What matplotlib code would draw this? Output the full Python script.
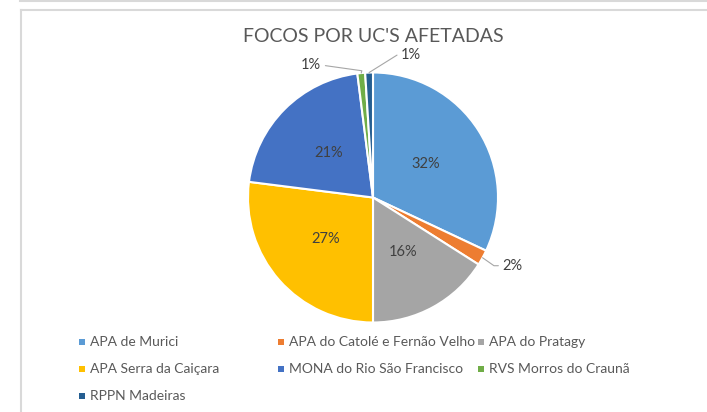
import numpy as np
import matplotlib.pyplot as plt
from matplotlib.patches import Rectangle
from matplotlib.lines import Line2D

plt.rcParams['font.family'] = ['Lato', 'DejaVu Sans']

# Dados do gráfico (percentuais)
ucs = ['APA de Murici', 'APA do Catolé e Fernão Velho', 'APA do Pratagy',
       'APA Serra da Caiçara', 'MONA do Rio São Francisco', 'RVS Morros do Craunã',
       'RPPN Madeiras']
percent = [32, 2, 16, 27, 21, 1, 1]
colors = ['#5B9BD5', '#ED7D31', '#A5A5A5', '#FFC000', '#4472C4', '#70AD47', '#255E91']
title = "FOCOS POR UC'S AFETADAS"

W, H = 707, 412
fig = plt.figure(figsize=(W / 100, H / 100), dpi=100)

# bordas cinzas (moldura do gráfico)
fig.add_artist(Line2D([20 / W, 1], [1 - 1 / H] * 2, color='#d9d9d9', lw=1.5))
fig.add_artist(Line2D([21 / W, 1], [1 - 10 / H] * 2, color='#d9d9d9', lw=1.5))
fig.add_artist(Line2D([21 / W] * 2, [0, 1 - 10 / H], color='#d9d9d9', lw=1.5))

# pizza
cx, cy, R = 373, 197.5, 125
ax = fig.add_axes([(cx - R) / W, (H - cy - R) / H, 2 * R / W, 2 * R / H])
wedges, _, autotexts = ax.pie(percent, colors=colors, startangle=90, counterclock=False,
                              autopct=lambda p: f'{p:.0f}%' if p >= 5 else '',
                              pctdistance=0.5,
                              wedgeprops=dict(edgecolor='white', linewidth=1.5),
                              textprops=dict(color='#404040', fontsize=10.5))
ax.set_xlim(-1, 1)
ax.set_ylim(-1, 1)

# rótulos externos com linha de chamada: (deslocamento x, y em px, alinhamento, angulos da linha)
leader = {1: (20, -8, 'left', 0, -35),
          5: (-40, 8, 'right', -8, 75),
          6: (32, 18, 'left', 0, 32)}
for i, (dx, dy, ha, angA, angB) in leader.items():
    w = wedges[i]
    th = np.deg2rad((w.theta1 + w.theta2) / 2)
    ax.annotate(f'{percent[i]}%', xy=(np.cos(th), np.sin(th)),
                xytext=(dx * 0.72, dy * 0.72), textcoords='offset points',
                ha=ha, va='center', color='#404040', fontsize=10.5,
                arrowprops=dict(arrowstyle='-', color='#a6a6a6', lw=0.8,
                                shrinkA=1, shrinkB=0,
                                relpos=(0 if ha == 'left' else 1, 0.5),
                                connectionstyle=f'angle,angleA={angA},angleB={angB},rad=0'))

# título
fig.text(cx / W, 1 - 37 / H, title, ha='center', va='center', fontsize=14.0, color='#595959')

# legenda manual em 3 colunas
col_x = [82, 281, 481]
row_y = [342, 369, 396]
for k, (name, c) in enumerate(zip(ucs, colors)):
    x = col_x[k % 3]
    y = row_y[k // 3]
    fig.add_artist(Rectangle(((x - 3) / W, 1 - (y + 3) / H), 6 / W, 6 / H,
                             transform=fig.transFigure, color=c, lw=0))
    fig.text((x + 8) / W, 1 - y / H, name, ha='left', va='center',
             fontsize=10, color='#595959')

fig.savefig('out.png', dpi=100)
